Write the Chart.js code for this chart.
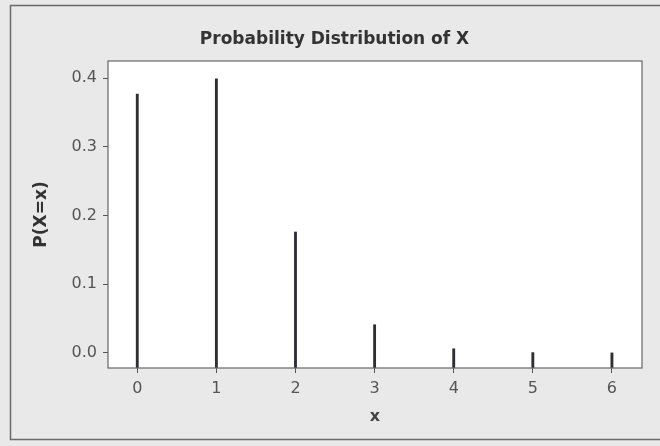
<!DOCTYPE html>
<html>
<head>
<meta charset="utf-8">
<script src="https://cdn.jsdelivr.net/npm/chart.js@4"></script>
<style>
  html, body { margin: 0; padding: 0; background: #e9e9e9; }
  #wrap { width: 660px; height: 446px; }
</style>
</head>
<body>
<div id="wrap"><canvas id="probChart" width="660" height="446"></canvas></div>
<script>
const xValues = [0, 1, 2, 3, 4, 5, 6];
const probValues = [0.377, 0.399, 0.176, 0.041, 0.006, 0.0004, 0.0000];
const yTicks = [0.0, 0.1, 0.2, 0.3, 0.4];

const yMin = -0.022;
const yMax = 0.425;

// page backdrop, outer frame and the white plot area, then the box round it
const framePlugin = {
    id: 'frame',
    beforeDraw(chart) {
        const c = chart.ctx;
        const a = chart.chartArea;
        c.save();
        c.fillStyle = '#e9e9e9';
        c.fillRect(0, 0, chart.width, chart.height);
        c.strokeStyle = '#6a6a6a';
        c.lineWidth = 1.5;
        c.strokeRect(10.5, 5.5, 680, 434);
        c.fillStyle = '#ffffff';
        c.fillRect(a.left, a.top, a.right - a.left, a.bottom - a.top);
        c.restore();
    },
    afterDraw(chart) {
        const c = chart.ctx;
        const a = chart.chartArea;
        c.save();
        c.strokeStyle = '#666666';
        c.lineWidth = 1.2;
        c.strokeRect(a.left, a.top, a.right - a.left, a.bottom - a.top);
        c.restore();
    }
};

const fontFam = 'DejaVu Sans, Verdana, sans-serif';

const ctx = document.getElementById('probChart').getContext('2d');
new Chart(ctx, {
    type: 'bar',
    data: {
        datasets: [{
            data: xValues.map((x, i) => ({ x: x, y: probValues[i] })),
            base: yMin,
            backgroundColor: '#2e2e33',
            barThickness: 2.2
        }]
    },
    options: {
        responsive: false,
        animation: false,
        layout: { padding: { left: 27, right: 18, top: 0, bottom: 16 } },
        plugins: {
            legend: { display: false },
            tooltip: { enabled: false },
            title: {
                display: true,
                text: 'Probability Distribution of X',
                color: '#333333',
                font: { family: fontFam, size: 17, weight: 'bold' },
                padding: { top: 29, bottom: 11.6 }
            }
        },
        scales: {
            x: {
                type: 'linear',
                offset: false,
                min: -0.37,
                max: 6.38,
                afterFit(scale) { scale.height = 62; },
                ticks: {
                    stepSize: 1,
                    includeBounds: false,
                    color: '#555555',
                    padding: 6,
                    font: { family: fontFam, size: 16 }
                },
                grid: { offset: false, drawOnChartArea: false, tickLength: 5, color: '#555555' },
                border: { display: false },
                title: {
                    display: true,
                    text: 'x',
                    color: '#444444',
                    font: { family: fontFam, size: 16, weight: 'bold' },
                    padding: { top: 4, bottom: 4 }
                }
            },
            y: {
                min: yMin,
                max: yMax,
                afterFit(scale) { scale.width = 81; },
                afterBuildTicks(scale) { scale.ticks = yTicks.map(v => ({ value: v })); },
                ticks: {
                    color: '#555555',
                    padding: 6,
                    font: { family: fontFam, size: 16 },
                    callback: v => v.toFixed(1)
                },
                grid: { drawOnChartArea: false, tickLength: 5, color: '#555555' },
                border: { display: false },
                title: {
                    display: true,
                    text: 'P(X=x)',
                    color: '#333333',
                    font: { family: fontFam, size: 17, weight: 'bold' },
                    padding: { top: 4, bottom: 4 }
                }
            }
        }
    },
    plugins: [framePlugin]
});
</script>
</body>
</html>
